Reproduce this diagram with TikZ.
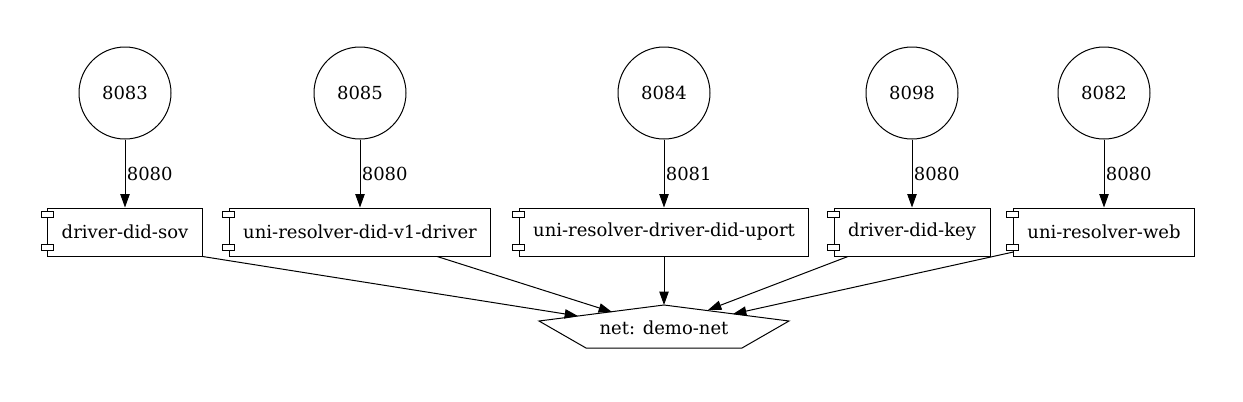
\documentclass[tikz,border=0pt]{standalone}
\usepackage{fontspec}
\setmainfont{DejaVu Serif}
\usetikzlibrary{arrows.meta}

\begin{document}
\begin{tikzpicture}[
    x=0.75pt, y=-0.75pt, line width=0.75pt,
    every node/.style={font=\fontsize{13.5}{16}\selectfont},
    port/.style={draw,circle,minimum size=69pt,inner sep=0pt},
    component/.style={draw,fill=white,minimum height=36pt,inner xsep=10.5pt,inner ysep=0pt},
    tab/.style={draw,fill=white},
    link/.style={-{Triangle[length=10pt,width=7pt]}},
  ]
  \useasboundingbox (0,0) rectangle (1243,401);
  \node[port] (p8083) at (125,93) {8083};
  \node[port] (p8085) at (360,93) {8085};
  \node[port] (p8084) at (664,93) {8084};
  \node[port] (p8098) at (912,93) {8098};
  \node[port] (p8082) at (1104,93) {8082};
  \node[component] (sov) at (125,232) {driver-did-sov};
  \node[component] (v1) at (360,232) {uni-resolver-did-v1-driver};
  \node[component] (uport) at (664,232) {uni-resolver-driver-did-uport};
  \node[component] (key) at (912,232) {driver-did-key};
  \node[component] (web) at (1104,232) {uni-resolver-web};
  \foreach \c in {sov,v1,uport,key,web} {
    \draw[tab] ([shift={(-6,4)}]\c.north west) rectangle ++(12,6);
    \draw[tab] ([shift={(-6,-12)}]\c.south west) rectangle ++(12,6);
  }
  \node (net) at (664,328) {net: demo-net};
  \coordinate (nettop) at (664,305);
  \draw (nettop) -- (789,321) -- (742,348) -- (586,348) -- (539,321) -- cycle;
  \coordinate (in1) at (578,316);
  \coordinate (in2) at (612,312);
  \coordinate (in4) at (708,310);
  \coordinate (in5) at (733,314);
  \foreach \p/\c/\l in {p8083/sov/8080,p8085/v1/8080,p8084/uport/8081,p8098/key/8080,p8082/web/8080}
    \draw[link] (\p) -- (\c) node[midway,right,inner sep=1pt]{\l};
  \draw[link] (sov.south east) -- (in1);
  \draw[link] (v1) -- (in2);
  \draw[link] (uport) -- (nettop);
  \draw[link] (key) -- (in4);
  \draw[link] (web) -- (in5);
\end{tikzpicture}
\end{document}
